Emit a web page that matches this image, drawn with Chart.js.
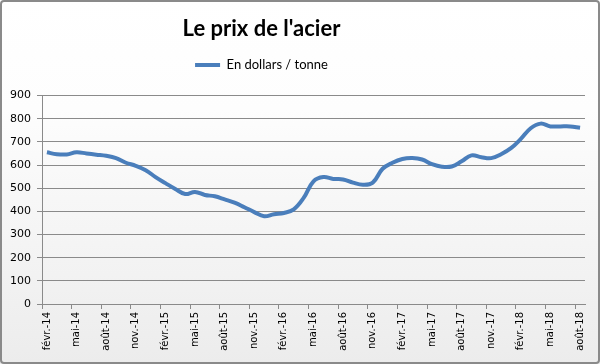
<!DOCTYPE html>
<html lang="fr">
<head>
  <meta charset="UTF-8">
  <title>Le prix de l'acier</title>
  <script src="https://cdn.jsdelivr.net/npm/chart.js"></script>
  <style>
    html, body { margin: 0; padding: 0; background: #fff; }
    #wrap { width: 600px; height: 364px; position: relative; }
  </style>
</head>
<body>
  <div id="wrap"><canvas id="chart" width="600" height="364"></canvas></div>

  <script>
    // mois de févr.-14 à août-18
    const moisNoms = ['janv.', 'févr.', 'mars', 'avr.', 'mai', 'juin', 'juil.', 'août', 'sept.', 'oct.', 'nov.', 'déc.'];
    const labels = [];
    for (let a = 14, m = 1; a < 18 || (a === 18 && m <= 7); ) {
      labels.push(moisNoms[m] + '-' + a);
      m++;
      if (m === 12) { m = 0; a++; }
    }

    // prix en dollars / tonne
    const prix = [
      655, 647, 646, 655, 650, 645, 640, 630, 610, 597, 578, 548,
      522, 497, 475, 484, 471, 465, 452, 438, 418, 397, 379, 388,
      393, 409, 458, 530, 548, 540, 538, 524, 515, 524, 584, 610,
      626, 630, 624, 604, 593, 594, 616, 642, 634, 630, 647, 673,
      713, 759, 779, 767, 767, 767, 761
    ];

    const titre = "Le prix de l'acier";
    const serie = 'En dollars / tonne';
    const yTicks = { min: 0, max: 900, step: 100 };

    // fond dégradé et cadre
    const cadre = {
      id: 'cadre',
      beforeDraw(chart) {
        const c = chart.ctx;
        const g = c.createLinearGradient(0, 0, 0, chart.height);
        g.addColorStop(0, '#ffffff');
        g.addColorStop(0.3, '#fdfdfd');
        g.addColorStop(1, '#ececec');
        c.save();
        c.fillStyle = g;
        c.fillRect(0, 0, chart.width, chart.height);
        c.strokeStyle = '#8a8a8a';
        c.lineWidth = 2;
        c.beginPath();
        c.roundRect(1, 1, chart.width - 2, chart.height - 2, 3);
        c.stroke();
        c.restore();
      }
    };

    // titre et légende décalés vers la gauche comme dans l'original
    const decalage = {
      id: 'decalage',
      afterLayout(chart) {
        const dx = -31;
        [chart.titleBlock, chart.legend].forEach(b => {
          if (b) { b.left += dx; b.right += dx; }
        });
      }
    };

    const ctx = document.getElementById('chart').getContext('2d');
    new Chart(ctx, {
      type: 'line',
      data: {
        labels: labels,
        datasets: [{
          label: serie,
          data: prix,
          borderColor: '#4a7ebb',
          backgroundColor: '#4a7ebb',
          borderWidth: 4,
          tension: 0.4,
          pointRadius: 0,
          fill: false
        }]
      },
      options: {
        responsive: false,
        animation: false,
        layout: { padding: { top: 4, right: 15, bottom: 0, left: 0 } },
        plugins: {
          title: {
            display: true,
            text: titre,
            color: '#000',
            font: { family: 'Lato', size: 22, weight: 'bold' },
            padding: { top: 12, bottom: 6 }
          },
          subtitle: {
            // simple espace sous la légende
            display: true,
            text: '',
            weight: 500,
            font: { size: 1 },
            padding: { top: 0, bottom: 13 }
          },
          legend: {
            display: true,
            labels: {
              color: '#000',
              font: { family: 'Lato', size: 13 },
              usePointStyle: true,
              pointStyle: 'line',
              pointStyleWidth: 25,
              boxHeight: 4,
              padding: 10
            }
          },
          tooltip: { enabled: false }
        },
        scales: {
          x: {
            type: 'category',
            offset: true,
            afterFit(scale) { scale.height = 60; },
            grid: {
              offset: true,
              drawOnChartArea: false,
              drawTicks: true,
              tickLength: 5,
              color: ctx => (ctx.index % 3 === 0 ? '#8a8a8a' : 'rgba(0,0,0,0)')
            },
            border: { color: '#8a8a8a', width: 1 },
            ticks: {
              autoSkip: false,
              minRotation: 90,
              maxRotation: 90,
              padding: 3,
              color: '#000',
              font: { family: 'DejaVu Sans', size: 10 },
              callback: function (v, i) { return i % 3 === 0 ? this.getLabelForValue(v) : ''; }
            }
          },
          y: {
            min: yTicks.min,
            max: yTicks.max,
            afterFit(scale) { scale.width = 42; },
            grid: { color: '#8a8a8a', tickLength: 5 },
            border: { color: '#8a8a8a', width: 1 },
            ticks: {
              stepSize: yTicks.step,
              padding: 6,
              color: '#000',
              font: { family: 'DejaVu Sans', size: 11 }
            }
          }
        }
      },
      plugins: [cadre, decalage]
    });
  </script>
</body>
</html>
